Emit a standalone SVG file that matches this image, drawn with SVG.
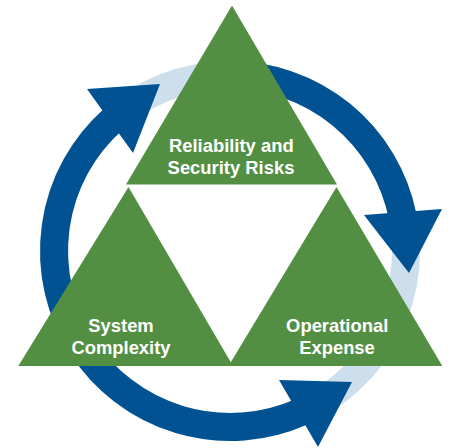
<svg xmlns="http://www.w3.org/2000/svg" width="450" height="448" viewBox="0 0 450 448">
<style>
.ring{fill:none;stroke:#cddeec;stroke-width:28}
.arc{fill:none;stroke:#005293;stroke-width:28}
.head{fill:#005293}
.tri{fill:#538f43}
.lbl{font-family:"Liberation Sans",Arial,sans-serif;font-weight:bold;font-size:18.4px;fill:#ffffff;text-anchor:middle}
</style>
<rect width="450" height="448" fill="#ffffff"/>
<circle class="ring" cx="230" cy="251" r="176"/>
<g id="connectors">
<path class="arc" d="M230,75 A176,176 0 0 1 402.5,215.9"/>
<polygon class="head" points="364,215 442,209 409,273"/>
<path class="arc" d="M301.6,411.8 A176,176 0 0 1 113.4,119.2"/>
<polygon class="head" points="87,89 133,153 160,84"/>
<polygon class="head" points="279,380 318,447 352,382"/>
</g>
<g id="node-reliability">
<polygon class="tri" points="232,5.5 126,184.5 337,184.5"/>
<text class="lbl" x="231.3" y="152.3">Reliability and</text>
<text class="lbl" x="231" y="174.3">Security Risks</text>
</g>
<g id="node-complexity">
<polygon class="tri" points="128.5,187 18.3,366 233,366"/>
<text class="lbl" x="121" y="332.3">System</text>
<text class="lbl" x="121" y="354">Complexity</text>
</g>
<g id="node-expense">
<polygon class="tri" points="336.5,187 228.5,366 442.3,366"/>
<text class="lbl" x="337.2" y="332.3">Operational</text>
<text class="lbl" x="337" y="353.5">Expense</text>
</g>
</svg>
